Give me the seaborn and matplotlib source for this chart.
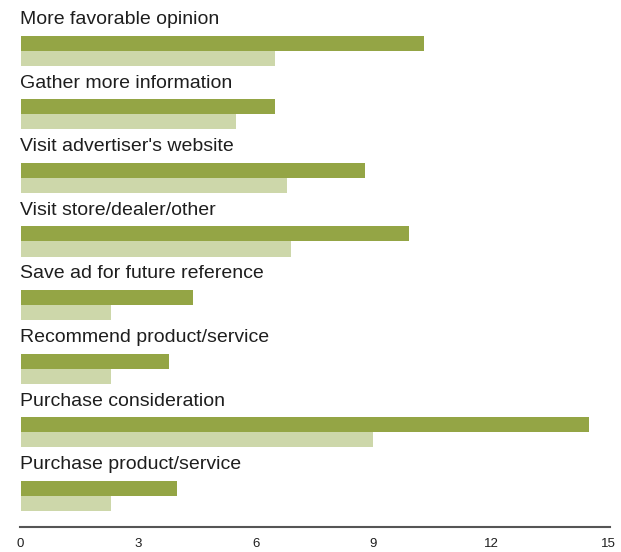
import matplotlib
matplotlib.use("Agg")
import matplotlib.pyplot as plt
import seaborn as sns
import pandas as pd

categories = [
    "More favorable opinion",
    "Gather more information",
    "Visit advertiser's website",
    "Visit store/dealer/other",
    "Save ad for future reference",
    "Recommend product/service",
    "Purchase consideration",
    "Purchase product/service",
]
series_names = ["Series 1", "Series 2"]
series_1 = [10.3, 6.5, 8.8, 9.9, 4.4, 3.8, 14.5, 4.0]
series_2 = [6.5, 5.5, 6.8, 6.9, 2.3, 2.3, 9.0, 2.3]
x_ticks = [0, 3, 6, 9, 12, 15]

colors = ["#94a545", "#cdd7aa"]
text_color = "#1e1e1e"

df = pd.DataFrame({
    "category": categories * 2,
    "series": [series_names[0]] * len(categories) + [series_names[1]] * len(categories),
    "value": series_1 + series_2,
})

sns.set_theme(style="white")
plt.rcParams["font.family"] = ["Liberation Sans", "DejaVu Sans"]

fig = plt.figure(figsize=(6.21, 5.52), dpi=100)
W, H = 621, 552
x0_px, x1_px = 20.5, 608.5
axis_y_px = 526.7
ax = fig.add_axes([x0_px / W, 1 - axis_y_px / H, (x1_px - x0_px) / W, axis_y_px / H])

sns.barplot(
    data=df, y="category", x="value", hue="series", order=categories,
    hue_order=series_names, palette=colors, orient="h", width=0.472,
    dodge=True, saturation=1, legend=False, ax=ax, linewidth=0,
)

pitch = 63.6
ax.set_ylim(7 + (axis_y_px - 50.7 - 7 * pitch) / pitch, -50.7 / pitch)
ax.set_xlim(0, 15)

for i, label in enumerate(categories):
    ax.text(0, i - 26.7 / pitch, label, ha="left", va="baseline",
            fontsize=14, color=text_color)

ax.set_yticks([])
ax.set_xticks(x_ticks)
ax.set_xticklabels([str(t) for t in x_ticks])
ax.tick_params(axis="x", length=0, pad=8, labelsize=9.5, labelcolor=text_color)
ax.set_xlabel("")
ax.set_ylabel("")
for side in ["top", "right", "left"]:
    ax.spines[side].set_visible(False)
ax.spines["bottom"].set_color("#555555")
ax.spines["bottom"].set_linewidth(1.5)
ax.spines["bottom"].set_bounds(-0.01, 15.04)

fig.savefig("out.png", dpi=100)
